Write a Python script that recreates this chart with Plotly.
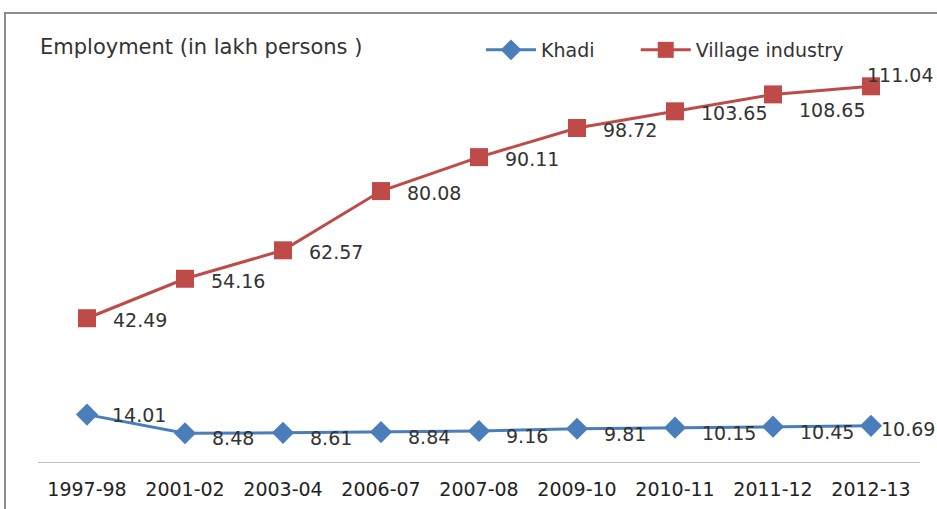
import plotly.graph_objects as go

years = ["1997-98", "2001-02", "2003-04", "2006-07", "2007-08", "2009-10", "2010-11", "2011-12", "2012-13"]
khadi = [14.01, 8.48, 8.61, 8.84, 9.16, 9.81, 10.15, 10.45, 10.69]
village = [42.49, 54.16, 62.57, 80.08, 90.11, 98.72, 103.65, 108.65, 111.04]

W, H = 937, 509
L, R, T, B = 38, 17, 56, 47
pw, ph = W - L - R, H - T - B

def px_x(x):
    return (x - L) / pw

def px_y(y):
    return (H - B - y) / ph

FONT = "DejaVu Sans"
label_font = dict(family=FONT, size=19, color="#333333")
PAD = "\u00a0" * 6  # spacing after the first legend entry

fig = go.Figure()
fig.add_trace(go.Scatter(
    x=years, y=khadi, name="Khadi" + PAD, mode="lines+markers",
    line=dict(color="#4A7EBB", width=3),
    marker=dict(symbol="diamond", size=17, color="#4A7EBB"),
))
fig.add_trace(go.Scatter(
    x=years, y=village, name="Village industry", mode="lines+markers",
    line=dict(color="#BE4B48", width=3),
    marker=dict(symbol="square", size=18, color="#BE4B48"),
))

annotations = []
# label offsets (px): default right of the point, a few adjusted as in the reference
v_shift = {7: (24, -16), 8: (-6, 11)}
k_shift = {0: (23, 0), 8: (8, -3)}
for i, (c, v) in enumerate(zip(years, village)):
    dx, dy = v_shift.get(i, (24, -2))
    annotations.append(dict(x=c, y=v, xref="x", yref="y", text=f"{v:.2f}", showarrow=False,
                            xanchor="left", yanchor="middle", xshift=dx, yshift=dy, font=label_font))
for i, (c, v) in enumerate(zip(years, khadi)):
    dx, dy = k_shift.get(i, (25, -5))
    annotations.append(dict(x=c, y=v, xref="x", yref="y", text=f"{v:.2f}", showarrow=False,
                            xanchor="left", yanchor="middle", xshift=dx, yshift=dy, font=label_font))
annotations.append(dict(text="Employment (in lakh persons )", xref="paper", yref="paper",
                        x=px_x(38), y=px_y(47), xanchor="left", yanchor="middle", showarrow=False,
                        font=dict(family=FONT, size=21, color="#333333")))

fig.update_layout(
    width=W, height=H,
    margin=dict(l=L, r=R, t=T, b=B, autoexpand=False),
    paper_bgcolor="white", plot_bgcolor="white",
    showlegend=True,
    legend=dict(orientation="h", x=px_x(481), y=px_y(50), xanchor="left", yanchor="middle",
                font=dict(family=FONT, size=19, color="#333333"), bgcolor="rgba(0,0,0,0)",
                itemwidth=50, tracegroupgap=0),
    xaxis=dict(type="category", showgrid=False, zeroline=False, showline=True,
               range=[-0.5, len(years) - 0.5],
               linecolor="#BFBFBF", linewidth=1, ticks="", automargin=False,
               tickfont=dict(family=FONT, size=19, color="#222222")),
    yaxis=dict(range=[0, 120], visible=False, automargin=False),
    annotations=annotations,
    shapes=[dict(type="rect", xref="paper", yref="paper",
                 x0=px_x(5), x1=px_x(940), y0=px_y(520), y1=px_y(13),
                 line=dict(color="#8C8C8C", width=2), layer="below")],
)
fig.update_xaxes(ticklabelstandoff=10)

fig.write_html("out.html")
